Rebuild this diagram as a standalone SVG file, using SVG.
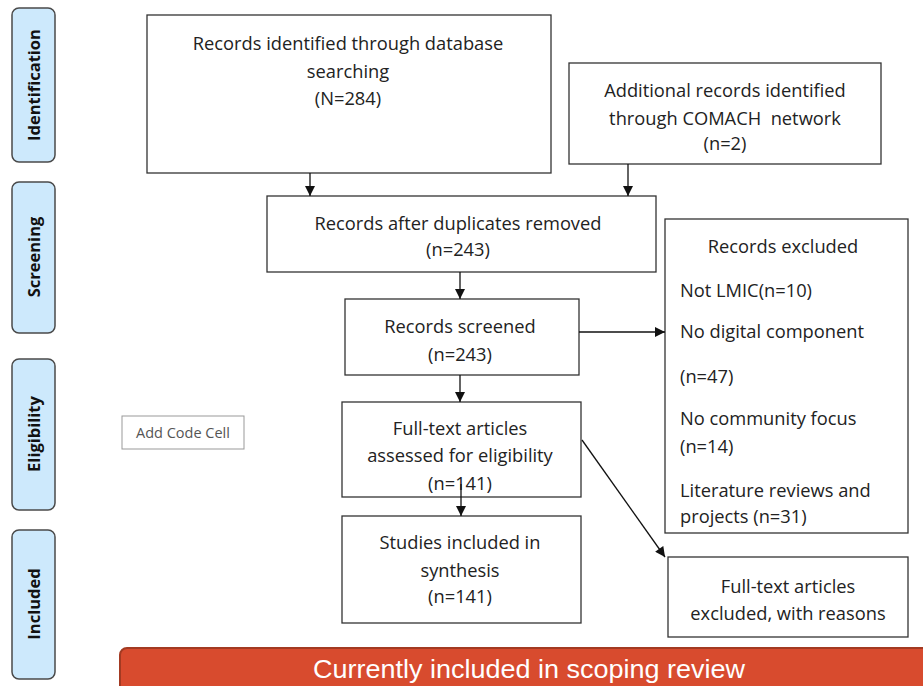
<svg xmlns="http://www.w3.org/2000/svg" width="923" height="686" viewBox="0 0 923 686">
<style>
.box{fill:#fff;stroke:#333;stroke-width:1.3}
.t{font-family:"Open Sans","Liberation Sans",sans-serif;font-size:18.3px;fill:#222}
.c{text-anchor:middle}
.side{fill:#cde9fc;stroke:#4a4a4a;stroke-width:1.5}
.st{font-family:"Open Sans","Liberation Sans",sans-serif;font-size:16.5px;font-weight:bold;fill:#111;text-anchor:middle}
.ln{stroke:#111;stroke-width:1.3;fill:none;marker-end:url(#ah)}
</style>
<defs>
<marker id="ah" viewBox="0 0 10 10" refX="10" refY="5" markerWidth="11" markerHeight="10" markerUnits="userSpaceOnUse" orient="auto">
<path d="M0,0 L10,5 L0,10 z" fill="#111"/>
</marker>
</defs>
<rect width="923" height="686" fill="#fff"/>

<g id="side-identification"><rect class="side" x="12" y="8" width="43" height="154" rx="7"/><text class="st" transform="translate(40,85) rotate(-90)">Identification</text></g>
<g id="side-screening"><rect class="side" x="12" y="182" width="43" height="151" rx="7"/><text class="st" transform="translate(40,257) rotate(-90)">Screening</text></g>
<g id="side-eligibility"><rect class="side" x="12" y="359" width="43" height="151" rx="7"/><text class="st" transform="translate(40,434) rotate(-90)">Eligibility</text></g>
<g id="side-included"><rect class="side" x="12" y="530" width="43" height="149" rx="7"/><text class="st" transform="translate(40,604) rotate(-90)">Included</text></g>

<g id="add-code-cell"><rect x="122" y="416" width="122" height="33" fill="#fff" stroke="#999" stroke-width="1"/><text x="183" y="438" text-anchor="middle" font-family="'Open Sans','Liberation Sans',sans-serif" font-size="14.5" fill="#555">Add Code Cell</text></g>

<g id="n-db"><rect class="box" x="147" y="15" width="404" height="158"/>
<text class="t c" x="348" y="50">Records identified through database</text>
<text class="t c" x="348" y="78">searching</text>
<text class="t c" x="348" y="105">(N=284)</text></g>

<g id="n-additional"><rect class="box" x="569" y="63" width="312" height="101"/>
<text class="t c" x="725" y="97">Additional records identified</text>
<text class="t c" x="725" y="125" xml:space="preserve">through COMACH  network</text>
<text class="t c" x="725" y="150">(n=2)</text></g>

<g id="n-dup"><rect class="box" x="267" y="196" width="389" height="76"/>
<text class="t c" x="458" y="230">Records after duplicates removed</text>
<text class="t c" x="458" y="256">(n=243)</text></g>

<g id="n-screened"><rect class="box" x="345" y="299" width="234" height="76"/>
<text class="t c" x="460" y="333">Records screened</text>
<text class="t c" x="460" y="361">(n=243)</text></g>

<g id="n-excluded"><rect class="box" x="665" y="219" width="243" height="314"/>
<text class="t c" x="783" y="253">Records excluded</text>
<text class="t" x="680" y="297">Not LMIC(n=10)</text>
<text class="t" x="680" y="338">No digital component</text>
<text class="t" x="680" y="383">(n=47)</text>
<text class="t" x="680" y="425">No community focus</text>
<text class="t" x="680" y="453">(n=14)</text>
<text class="t" x="680" y="497">Literature reviews and</text>
<text class="t" x="680" y="523">projects (n=31)</text></g>

<g id="n-fulltext"><rect class="box" x="342" y="402" width="239" height="95"/>
<text class="t c" x="460" y="435">Full-text articles</text>
<text class="t c" x="460" y="462">assessed for eligibility</text>
<text class="t c" x="460" y="490">(n=141)</text></g>

<g id="n-included"><rect class="box" x="342" y="516" width="239" height="107"/>
<text class="t c" x="460" y="549">Studies included in</text>
<text class="t c" x="460" y="577">synthesis</text>
<text class="t c" x="460" y="603">(n=141)</text></g>

<g id="n-ft-excluded"><rect class="box" x="668" y="557" width="240" height="80"/>
<text class="t c" x="788" y="593">Full-text articles</text>
<text class="t c" x="788" y="620">excluded, with reasons</text></g>

<g id="connectors">
<line class="ln" x1="310" y1="173" x2="310" y2="196"/>
<line class="ln" x1="628" y1="164" x2="628" y2="196"/>
<line class="ln" x1="460" y1="272" x2="460" y2="299"/>
<line class="ln" x1="460" y1="375" x2="460" y2="402"/>
<line class="ln" x1="461" y1="484" x2="461" y2="516"/>
<line class="ln" x1="579" y1="332" x2="665" y2="332"/>
<line class="ln" x1="582" y1="440" x2="665" y2="557"/>
</g>

<g id="banner">
<rect x="120" y="648" width="815" height="50" rx="7" fill="#d84b2e" stroke="#a33a22" stroke-width="2"/>
<text x="529" y="678" text-anchor="middle" font-family="'Liberation Sans Narrow','Liberation Sans',sans-serif" font-size="26" fill="#fff" textLength="432" lengthAdjust="spacingAndGlyphs">Currently included in scoping review</text>
</g>
</svg>
